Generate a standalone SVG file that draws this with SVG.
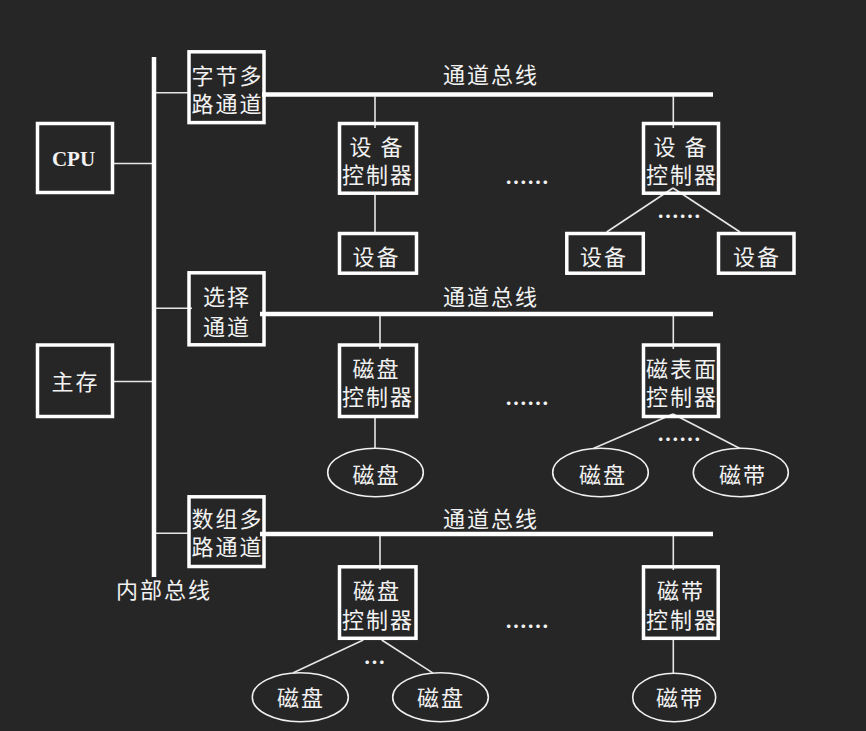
<svg xmlns="http://www.w3.org/2000/svg" width="866" height="731" viewBox="0 0 866 731">
<style>
.bg{fill:#262626}
.box{fill:none;stroke:#ffffff;stroke-width:3.5}
.ell{fill:none;stroke:#f0f0f0;stroke-width:1.6}
.bus{stroke:#ffffff;stroke-width:4.5;fill:none}
.ln{stroke:#e6e6e6;stroke-width:1.6;fill:none}
.t{font-family:"Noto Sans CJK SC","Noto Sans",sans-serif;font-size:22px;fill:#f2f2f2;text-anchor:middle;dominant-baseline:central;letter-spacing:2px}
.d{font-family:"Noto Sans CJK SC","Noto Sans",sans-serif;font-size:22px;font-weight:bold;fill:#f2f2f2;text-anchor:middle;dominant-baseline:central}
.cpu{font-family:"Liberation Serif",serif;font-size:21px;font-weight:bold;fill:#f2f2f2;text-anchor:middle;dominant-baseline:central}
</style>
<rect class="bg" x="0" y="0" width="866" height="731"/>
<g id="connectors">
<line class="bus" x1="154" y1="57" x2="154" y2="577"/>
<line class="bus" x1="262" y1="94.5" x2="713" y2="94.5"/>
<line class="bus" x1="260" y1="314" x2="713" y2="314"/>
<line class="bus" x1="260" y1="534" x2="713" y2="534"/>
<line class="ln" x1="114" y1="163.5" x2="152" y2="163.5"/>
<line class="ln" x1="114" y1="381.5" x2="152" y2="381.5"/>
<line class="ln" x1="156" y1="92.7" x2="189" y2="92.7"/>
<line class="ln" x1="156" y1="308.3" x2="192" y2="308.3"/>
<line class="ln" x1="156" y1="533.3" x2="190" y2="533.3"/>
<line class="ln" x1="375" y1="96" x2="375" y2="128"/>
<line class="ln" x1="375" y1="195" x2="375" y2="232"/>
<line class="ln" x1="673.3" y1="96" x2="673.3" y2="128"/>
<line class="ln" x1="673" y1="188" x2="606.7" y2="232"/>
<line class="ln" x1="673" y1="188" x2="740" y2="232"/>
<line class="ln" x1="380" y1="316" x2="380" y2="349"/>
<line class="ln" x1="375" y1="418" x2="375" y2="448.5"/>
<line class="ln" x1="673.3" y1="316" x2="673.3" y2="349"/>
<line class="ln" x1="673" y1="414" x2="593.3" y2="448.5"/>
<line class="ln" x1="673" y1="414" x2="740" y2="448.5"/>
<line class="ln" x1="380" y1="536" x2="380" y2="570"/>
<line class="ln" x1="363.3" y1="640" x2="293.3" y2="672.8"/>
<line class="ln" x1="381.7" y1="640" x2="432.7" y2="672.8"/>
<line class="ln" x1="673.3" y1="536" x2="673.3" y2="570"/>
<line class="ln" x1="673.3" y1="640" x2="673.3" y2="673.5"/>
</g>
<g id="labels">
<text class="t" x="491" y="72.5">通道总线</text>
<text class="t" x="491" y="295">通道总线</text>
<text class="t" x="491" y="516.8">通道总线</text>
<text class="t" x="164" y="587.5">内部总线</text>
<text class="d" x="527" y="179.5">……</text>
<text class="d" x="679" y="213.8">……</text>
<text class="d" x="527" y="400.5">……</text>
<text class="d" x="679" y="437">……</text>
<text class="d" x="527" y="623.8">……</text>
<text class="d" x="374.5" y="659.5">…</text>
</g>
<g id="cpu">
<rect class="box" x="37.5" y="123.5" width="75" height="69"/>
<text class="cpu" x="73.5" y="159">CPU</text>
</g>
<g id="memory">
<rect class="box" x="37.5" y="345" width="75" height="71.5"/>
<text class="t" x="75.5" y="380">主存</text>
</g>
<g id="byte-mux">
<rect class="box" x="189" y="51.8" width="75" height="70.8"/>
<text class="t" x="227.5" y="73.5">字节多</text>
<text class="t" x="227.5" y="101.5">路通道</text>
</g>
<g id="selector">
<rect class="box" x="189" y="272.8" width="75" height="72"/>
<text class="t" x="227" y="295.2">选择</text>
<text class="t" x="227" y="324.5">通道</text>
</g>
<g id="block-mux">
<rect class="box" x="189" y="496.8" width="75" height="69.7"/>
<text class="t" x="227.5" y="516.8">数组多</text>
<text class="t" x="227.5" y="545.2">路通道</text>
</g>
<g id="devctl1">
<rect class="box" x="339.5" y="123.5" width="77" height="69.7"/>
<text class="t" x="377" y="144.5" xml:space="preserve">设 备</text>
<text class="t" x="378" y="172.8">控制器</text>
</g>
<g id="dev1">
<rect class="box" x="339.5" y="233.5" width="77" height="39.7"/>
<text class="t" x="376.5" y="254.5">设备</text>
</g>
<g id="devctl2">
<rect class="box" x="643.5" y="123.5" width="75" height="69.7"/>
<text class="t" x="681" y="144.5" xml:space="preserve">设 备</text>
<text class="t" x="682" y="172.8">控制器</text>
</g>
<g id="dev2">
<rect class="box" x="566.8" y="233.5" width="76.5" height="39.7"/>
<text class="t" x="604" y="254.5">设备</text>
</g>
<g id="dev3">
<rect class="box" x="718.5" y="233.5" width="75.5" height="39.7"/>
<text class="t" x="757" y="254.5">设备</text>
</g>
<g id="diskctl1">
<rect class="box" x="339.5" y="345" width="77" height="71.5"/>
<text class="t" x="376.5" y="366.8">磁盘</text>
<text class="t" x="378" y="395.2">控制器</text>
</g>
<g id="disk1">
<ellipse class="ell" cx="375.5" cy="472.5" rx="47.8" ry="24.2"/>
<text class="t" x="376.5" y="472.5">磁盘</text>
</g>
<g id="surfctl">
<rect class="box" x="643.5" y="345" width="75" height="71.5"/>
<text class="t" x="682" y="366.8">磁表面</text>
<text class="t" x="682" y="395.2">控制器</text>
</g>
<g id="disk2">
<ellipse class="ell" cx="600.5" cy="472.5" rx="47.8" ry="24.2"/>
<text class="t" x="603" y="472.5">磁盘</text>
</g>
<g id="tape1">
<ellipse class="ell" cx="740.8" cy="472.5" rx="47.5" ry="24.2"/>
<text class="t" x="743" y="472.5">磁带</text>
</g>
<g id="diskctl2">
<rect class="box" x="339.5" y="566.8" width="76.5" height="71.5"/>
<text class="t" x="377" y="588.5">磁盘</text>
<text class="t" x="378" y="617.8">控制器</text>
</g>
<g id="disk3">
<ellipse class="ell" cx="300.3" cy="697.2" rx="48" ry="24.5"/>
<text class="t" x="301" y="696">磁盘</text>
</g>
<g id="disk4">
<ellipse class="ell" cx="440.5" cy="697.2" rx="47.8" ry="24.5"/>
<text class="t" x="441" y="696">磁盘</text>
</g>
<g id="tapectl">
<rect class="box" x="643.5" y="566.8" width="74.7" height="71.5"/>
<text class="t" x="681" y="588.5">磁带</text>
<text class="t" x="682" y="617.8">控制器</text>
</g>
<g id="tape2">
<ellipse class="ell" cx="674.2" cy="697.5" rx="41.5" ry="24.2"/>
<text class="t" x="680" y="696">磁带</text>
</g>
</svg>
